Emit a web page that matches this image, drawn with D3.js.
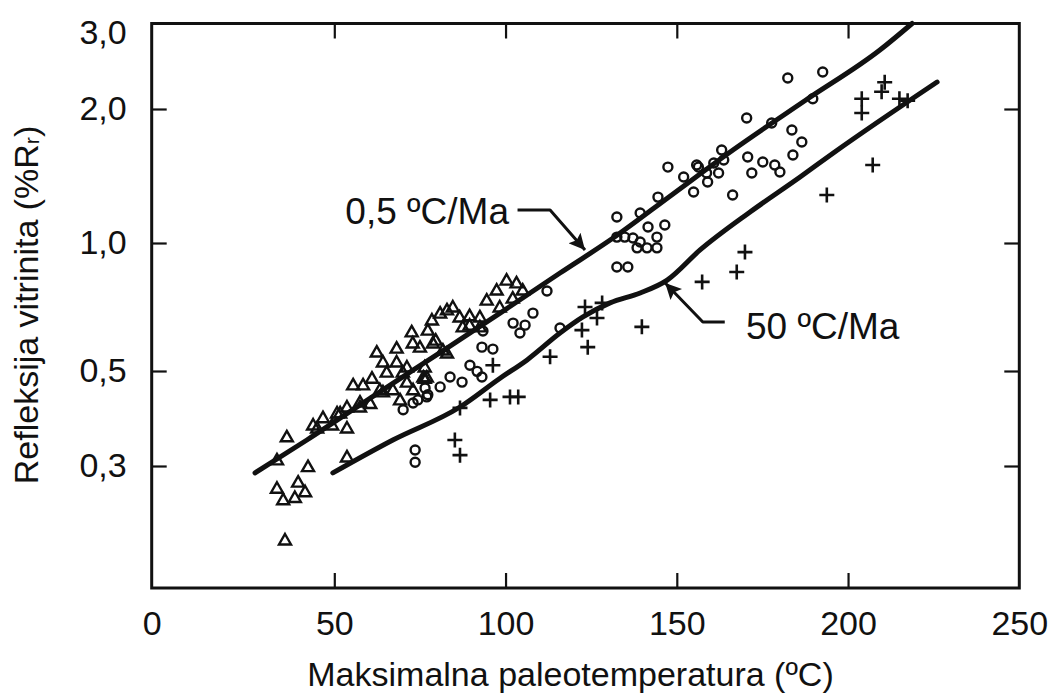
<!DOCTYPE html>
<html><head><meta charset="utf-8">
<script src="https://cdn.jsdelivr.net/npm/d3@7"></script>
<style>
html,body{margin:0;padding:0;background:#fff;}
text{font-family:"Liberation Sans",Arial,sans-serif;fill:#111;}
</style></head>
<body><svg id="c" width="1052" height="699"></svg>
<script>
// ---- data (x: °C, y: %Rr) ----
const xTicks = [0, 50, 100, 150, 200, 250];
const yTicks = [0.3, 0.5, 1.0, 2.0, 3.0];
const yTickLabels = ["0,3", "0,5", "1,0", "2,0", "3,0"];

const triangles = [
 [36.5,0.201],[34.3,0.310],[37.0,0.351],[42.8,0.299],[34.3,0.266],[36.0,0.250],[39.2,0.253],[40.1,0.275],[42.0,0.261],
 [45.3,0.368],[46.9,0.389],[49.4,0.374],[53.7,0.368],[53.7,0.315],[51.7,0.399],[53.7,0.412],[57.5,0.412],[55.5,0.464],
 [58.4,0.464],[61.0,0.481],[63.3,0.452],[65.3,0.497],[62.4,0.554],[64.2,0.525],[68.2,0.566],[68.2,0.525],[70.0,0.497],
 [71.2,0.471],[67.1,0.452],[69.2,0.428],[72.6,0.618],[72.9,0.582],[75.0,0.569],[77.3,0.624],[78.8,0.582],[81.7,0.560],
 [76.4,0.511],[76.4,0.481],[78.5,0.659],[80.9,0.684],[82.9,0.696],[84.6,0.707],[86.6,0.670],[89.5,0.675],[92.5,0.670],
 [89.5,0.641],[92.5,0.635],[94.5,0.734],[97.4,0.775],[100.3,0.818],[103.2,0.806],[105.0,0.775],[98.3,0.707],[102.1,0.742],
 [87.5,0.635],[79.6,0.591],[82.9,0.551],[71.2,0.511],[77.0,0.484],[50.8,0.399],[44.2,0.374],[57.5,0.423],[60.5,0.420],
 [64.2,0.447],[73.0,0.452],[76.0,0.484]
];
const circles = [
 [73.6,0.327],[73.6,0.306],[70.1,0.406],[73.0,0.421],[77.0,0.435],[76.5,0.456],[80.9,0.459],[83.8,0.484],[87.3,0.471],
 [89.6,0.516],[91.7,0.499],[93.1,0.484],[93.1,0.569],[96.3,0.563],[93.4,0.621],[74.4,0.428],[77.3,0.440],
 [102.2,0.648],[105.7,0.641],[104.2,0.614],[108.0,0.684],[112.1,0.771],[115.9,0.631],
 [132.5,1.144],[139.3,1.168],[144.5,1.268],[147.4,1.481],[132.5,1.031],[134.8,1.031],[137.2,1.026],[139.3,1.005],
 [141.3,0.974],[144.2,0.974],[138.4,0.974],[141.6,1.086],[144.2,1.031],[146.5,1.098],[132.5,0.878],[135.7,0.878],
 [152.0,1.407],[154.9,1.302],[155.8,1.497],[159.0,1.371],[160.8,1.512],[162.2,1.436],[163.7,1.536],[163.1,1.618],
 [166.3,1.282],[170.4,1.909],[170.7,1.560],[171.9,1.436],[175.1,1.520],[177.7,1.860],[178.6,1.497],[180.1,1.444],
 [182.4,2.316],[183.6,1.794],[183.9,1.576],[186.5,1.686],[189.7,2.10],[192.6,2.384],[156.3,1.481],[158.7,1.436]
];
const pluses = [
 [86.7,0.410],[85.2,0.345],[86.7,0.318],[95.5,0.428],[101.3,0.435],[103.7,0.435],[96.3,0.516],[113.0,0.540],
 [123.2,0.707],[128.2,0.723],[126.7,0.666],[122.3,0.624],[124.0,0.569],[139.8,0.635],[157.4,0.810],[167.5,0.855],
 [169.9,0.952],[193.8,1.282],[207.2,1.497],[204.0,2.10],[204.0,1.959],[210.7,2.27],[209.8,2.17],[217.4,2.08],[215.0,2.10]
];
const curve05 = [
 [28.3,0.289],[42.5,0.345],[63.3,0.447],[82.9,0.566],[98.4,0.684],[115.9,0.850],[131.4,1.026],[148.9,1.289],
 [166.4,1.618],[187.7,2.087],[209.3,2.645],[218.7,3.0]
];
const curve50 = [
 [49.6,0.289],[67.1,0.345],[86.7,0.412],[98.4,0.481],[106.3,0.531],[115.9,0.614],[122.6,0.670],[130.5,0.723],
 [139.3,0.763],[147.2,0.818],[156.8,0.963],[171.4,1.174],[186.0,1.407],[195.7,1.593],[226.0,2.273]
];
const labels = [
 {text:"0,5 ºC/Ma", x:101.0, y:1.18, anchor:"end", arrow:[[103.5,1.186],[113.0,1.186],[123.2,0.963]]},
 {text:"50 ºC/Ma", x:170.2, y:0.635, anchor:"start", arrow:[[164.0,0.652],[157.6,0.652],[146.6,0.805]]}
];

// ---- scales ----
const x = d3.scaleLinear().domain([0, 50, 250]).range([151.7, 334.3, 1019.3]);
const y = d3.scaleLog().domain([0.155, 0.3, 0.5, 1, 2, 3]).range([588, 466, 371, 243, 109, 23.5]);

const svg = d3.select("#c");
svg.append("rect").attr("width",1052).attr("height",699).attr("fill","#fff");

const FS = 34, FSA = 37;
const x0 = x(0), x1 = x(250), yT = y(3), yB = y(0.155);
const TL = 15;

const gx = svg.append("g").attr("transform",`translate(0,${yB})`)
  .call(d3.axisBottom(x).tickValues(xTicks).tickSize(-TL).tickPadding(TL+8).tickFormat(d3.format("d")));
const gxTop = svg.append("g").attr("transform",`translate(0,${yT})`)
  .call(d3.axisTop(x).tickValues(xTicks).tickSize(-TL).tickFormat(""));
const gy = svg.append("g").attr("transform",`translate(${x0},0)`)
  .call(d3.axisLeft(y).tickValues(yTicks).tickSize(-TL).tickPadding(TL+10).tickFormat(d=>yTickLabels[yTicks.indexOf(d)]));
const gyR = svg.append("g").attr("transform",`translate(${x1},0)`)
  .call(d3.axisRight(y).tickValues(yTicks).tickSize(-TL).tickFormat(""));
[gx,gxTop,gy,gyR].forEach(g=>{
  g.select(".domain").remove();
  g.selectAll(".tick line").attr("stroke","#111").attr("stroke-width",2.2);
  g.selectAll(".tick text").attr("font-size",FS).attr("font-family",'"Liberation Sans",Arial,sans-serif').attr("fill","#111");
});
gx.selectAll(".tick").filter(d=>d===0||d===250).select("line").remove();
gxTop.selectAll(".tick").filter(d=>d===0||d===250).select("line").remove();
gy.selectAll(".tick").filter(d=>d===3).select("line").remove();
gyR.selectAll(".tick").filter(d=>d===3).select("line").remove();
gy.selectAll(".tick").filter(d=>d===3).select("text").attr("dy","0.6em");

// frame
svg.append("rect").attr("x",x0).attr("y",yT).attr("width",x1-x0).attr("height",yB-yT)
  .attr("fill","none").attr("stroke","#111").attr("stroke-width",3);

// curves
const line = d3.line().x(d=>x(d[0])).y(d=>y(d[1])).curve(d3.curveMonotoneX);
[curve05, curve50].forEach(c=>{
  svg.append("path").attr("d",line(c)).attr("fill","none").attr("stroke","#111")
    .attr("stroke-width",5).attr("stroke-linecap","round");
});

// markers
const mk = svg.append("g").attr("fill","none").attr("stroke","#111").attr("stroke-width",2.4);
mk.selectAll(".t").data(triangles).join("path")
  .attr("d","M0,-6L6,4.5L-6,4.5Z").attr("transform",d=>`translate(${x(d[0])},${y(d[1])})`);
mk.selectAll(".c").data(circles).join("circle")
  .attr("cx",d=>x(d[0])).attr("cy",d=>y(d[1])).attr("r",4.5);
mk.selectAll(".p").data(pluses).join("path")
  .attr("d","M-7.5,0H7.5M0,-7.5V7.5").attr("stroke-width",2.6).attr("transform",d=>`translate(${x(d[0])},${y(d[1])})`);

// annotations
const defs = svg.append("defs");
defs.append("marker").attr("id","ah").attr("viewBox","0 0 10 10").attr("refX",10).attr("refY",5)
  .attr("markerWidth",26).attr("markerHeight",16).attr("markerUnits","userSpaceOnUse")
  .attr("orient","auto").append("path").attr("d","M0,0L10,5L0,10L2,5Z").attr("fill","#111");
const al = d3.line().x(d=>x(d[0])).y(d=>y(d[1])).curve(d3.curveBasis);
labels.forEach(l=>{
  svg.append("text").attr("x",x(l.x)).attr("y",y(l.y)).attr("text-anchor",l.anchor)
    .attr("dominant-baseline","central").attr("font-size",FSA).text(l.text);
  svg.append("path").attr("d",d3.line().x(d=>x(d[0])).y(d=>y(d[1]))(l.arrow)).attr("fill","none").attr("stroke","#111")
    .attr("stroke-width",3).attr("stroke-linejoin","round").attr("marker-end","url(#ah)");
});

// axis titles
svg.append("text").attr("x",(x0+x1)/2 - 15).attr("y",674).attr("text-anchor","middle")
  .attr("dominant-baseline","central").attr("font-size",FS).text("Maksimalna paleotemperatura (ºC)");
const yt = svg.append("text").attr("transform",`translate(26,${305}) rotate(-90)`)
  .attr("text-anchor","middle").attr("dominant-baseline","central").attr("font-size",FS);
yt.append("tspan").text("Refleksija vitrinita (%R");
yt.append("tspan").attr("font-size",FS*0.62).attr("dy",5).text("r");
yt.append("tspan").attr("dy",-5).text(")");
</script></body></html>
